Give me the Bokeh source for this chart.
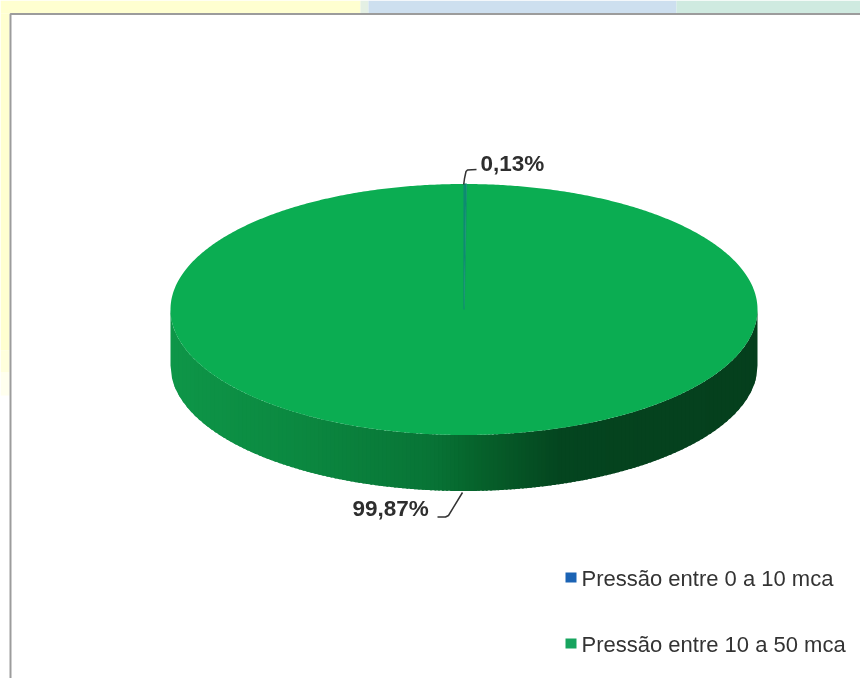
import math
from bokeh.plotting import figure
from bokeh.models import Range1d
from bokeh.core.properties import value
from bokeh.embed import file_html
from bokeh.resources import INLINE

# ---- data ----
categories = ["Pressão entre 0 a 10 mca", "Pressão entre 10 a 50 mca"]
shares = [0.13, 99.87]
labels = ["0,13%", "99,87%"]
slice_colors = ["#0E8C72", "#0BAD52"]
legend_colors = ["#1B63B4", "#17A45E"]

# ---- layout / style ----
W, H = 860, 678
CX, CY, RX, RY, DEPTH = 463.5, 309.0, 293.5, 125.5, 56.0
side_stops = [(170, (14, 150, 72)), (300, (11, 136, 64)), (430, (8, 116, 54)),
              (463, (6, 104, 46)), (500, (6, 90, 40)), (560, (4, 69, 31)),
              (650, (5, 66, 30)), (757, (5, 63, 29))]
FONT = value("Liberation Sans")


def side_color(x):
    for (x0, c0), (x1, c1) in zip(side_stops, side_stops[1:]):
        if x <= x1:
            t = max(0.0, (x - x0) / (x1 - x0))
            return "#%02x%02x%02x" % tuple(round(a + (b - a) * t) for a, b in zip(c0, c1))
    return "#%02x%02x%02x" % side_stops[-1][1]


p = figure(width=W, height=H, output_backend="svg", toolbar_location=None,
           x_range=Range1d(0, W), y_range=Range1d(H, 0), min_border=0,
           outline_line_color=None, background_fill_color="white",
           border_fill_color=None)
p.axis.visible = False
p.grid.visible = False
p.styles = {"position": "fixed", "left": "0px", "top": "0px"}

# page background behind the panel
p.quad(left=[0, 360, 368, 676], right=[360, 368, 676, W],
       top=[0] * 4, bottom=[13] * 4,
       fill_color=["#FFFFD0", "#E4F0E4", "#CDDFEF", "#CFEAE0"], line_color=None)
p.quad(left=[0] * 3, right=[9] * 3, top=[13, 350, 372], bottom=[350, 372, 395],
       fill_color=["#FFFFD0", "#FFFFDC", "#FFFFEE"], line_color=None)

# panel frame
p.line(x=[W, 10, 10], y=[13.5, 13.5, H], line_color="#9C9C9C", line_width=2)


def rim(x):
    u = max(-1.0, min(1.0, (x - CX) / RX))
    return CY + RY * math.sqrt(1 - u * u)


# side wall: vertical strips painted left to right, each overlapping the next
n = 147
xs, ys, cols = [], [], []
right_edge = CX + RX
for i in range(n):
    x0 = CX - RX + 2 * RX * i / n
    x1 = min(right_edge, CX - RX + 2 * RX * (i + 1) / n + 2)
    mid = [x0 + (x1 - x0) * k / 4 for k in range(5)]
    xs.append(mid + mid[::-1])
    ys.append([rim(m) for m in mid] + [rim(m) + DEPTH for m in mid[::-1]])
    cols.append(side_color(x0 + 2))
p.patches(xs, ys, fill_color=cols, line_color=None)

# top face: slices from the shares, clockwise from 12 o'clock
total = sum(shares)
start = 0.0
angles = []
for s in shares:
    angles.append((start, start + s / total * 2 * math.pi))
    start += s / total * 2 * math.pi
for idx, width in [(1, 0), (0, 1.6)]:
    a0, a1 = angles[idx]
    steps = max(2, int((a1 - a0) * 120))
    px = [CX] + [CX + RX * math.sin(a0 + (a1 - a0) * k / steps) for k in range(steps + 1)]
    py = [CY] + [CY - RY * math.cos(a0 + (a1 - a0) * k / steps) for k in range(steps + 1)]
    p.patch(px, py, fill_color=slice_colors[idx],
            line_color=slice_colors[idx] if width else None, line_width=width or 1,
            line_alpha=0.7)

# leader lines
p.line(x=[463.2, 464, 465.5, 467, 476], y=[184, 178, 171, 169.5, 169], line_color="#333333", line_width=1.5)
p.line(x=[462, 448, 445, 437], y=[492, 515, 516.5, 516.5], line_color="#333333", line_width=1.5)

# data labels
p.text(x=[480], y=[163], text=[labels[0]], text_font=FONT, text_font_style="bold",
       text_font_size="22.5px", text_color="#2E2E2E", text_baseline="middle", text_align="left")
p.text(x=[352], y=[508], text=[labels[1]], text_font=FONT, text_font_style="bold",
       text_font_size="22.5px", text_color="#2E2E2E", text_baseline="middle", text_align="left")

# legend
for c, col, y in zip(categories, legend_colors, [577, 643]):
    p.quad(left=[565], right=[576], top=[y - 5], bottom=[y + 5], fill_color=col, line_color=None)
    p.text(x=[581], y=[y + 0.5], text=[c], text_font=FONT, text_font_size="22px",
           text_color="#333333", text_baseline="middle", text_align="left")

open("out.html", "w").write(file_html(p, INLINE))
